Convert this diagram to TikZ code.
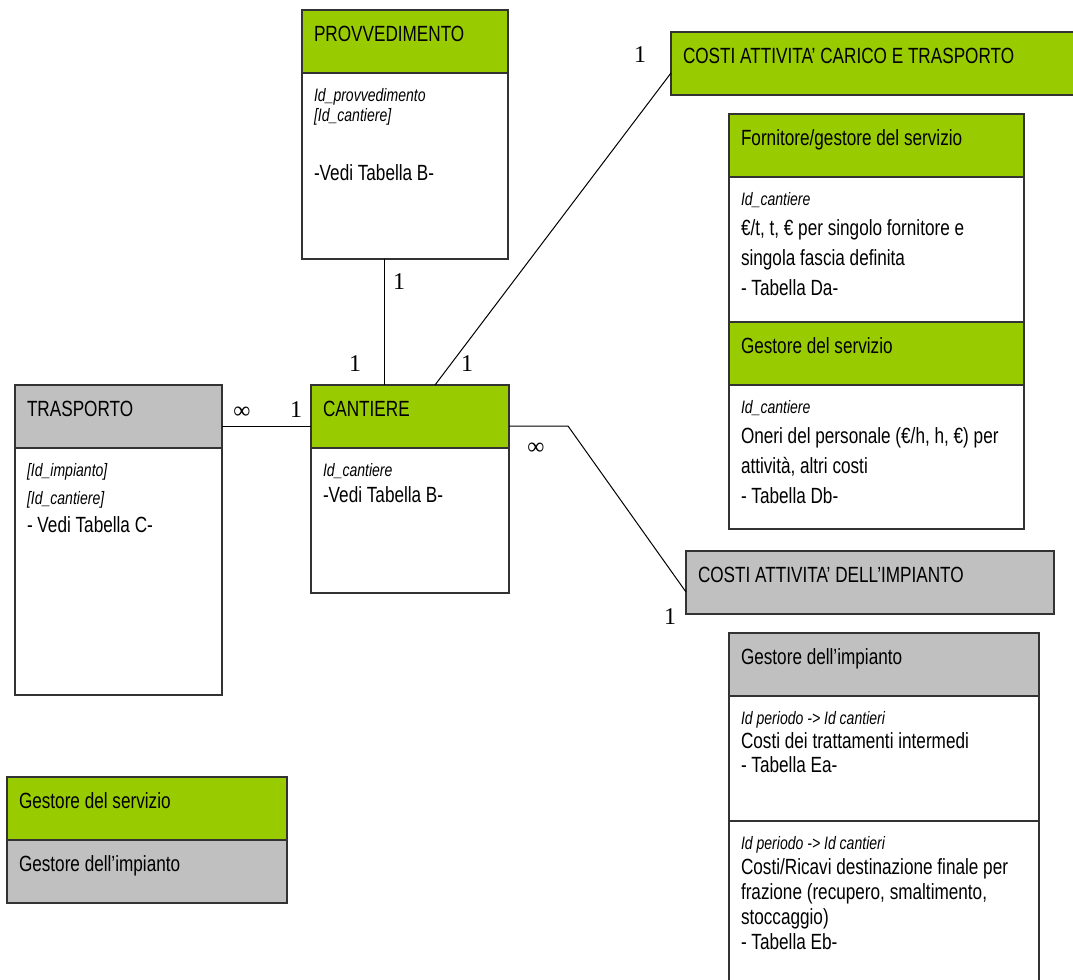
\documentclass[tikz,border=0pt]{standalone}
\usepackage{fontspec}
\setmainfont{Liberation Sans}[FakeStretch=0.78]
\newfontfamily\cardfont{Liberation Serif}
\usepackage{tikz}
\definecolor{servizio}{RGB}{153,204,0}
\definecolor{impianto}{RGB}{192,192,192}
\newlength{\tabwidth}
\setlength{\tabwidth}{135.5pt}
\newcommand{\idf}[1]{{\fontsize{9}{10}\selectfont\itshape #1}}

\tikzset{
    tbl/.style={draw=black!80, line width=0.65pt, anchor=north west, align=flush left,
        inner xsep=6pt, inner ysep=7.5pt, outer sep=0pt, text width=#1,
        font=\fontsize{11}{15}\selectfont},
    hdr/.style={tbl=#1, text height=8pt, text depth=8.5pt},
    bdy/.style 2 args={tbl=#1, fill=white, text height=6.5pt, text depth=#2},
    link/.style={draw=black, line width=0.5pt},
    card/.style={font=\cardfont\fontsize{12}{12}\selectfont, inner sep=0pt},
}

\begin{document}
\begin{tikzpicture}[x=0.5pt, y=-0.5pt]
    \useasboundingbox (0,0) rectangle (1073,980);

    \node[hdr=91pt, fill=servizio] (provh) at (302,10) {PROVVEDIMENTO};
    \node[bdy={91pt}{71.5pt}] (provb) at (provh.south west)
        {\idf{Id\_provvedimento}\\[-5pt]\idf{[Id\_cantiere]}\\[14.5pt]-Vedi Tabella B-};

    \node[hdr=91.5pt, fill=impianto] (trasph) at (15,385) {TRASPORTO};
    \node[bdy={91.5pt}{102pt}] (traspb) at (trasph.south west)
        {\idf{[Id\_impianto]}\\[-1pt]\idf{[Id\_cantiere]}\\[-1pt]- Vedi Tabella C-};

    \node[hdr=87pt, fill=servizio] (canth) at (311,385) {CANTIERE};
    \node[bdy={87pt}{51pt}] (cantb) at (canth.south west)
        {\idf{Id\_cantiere}\\[-2pt]-Vedi Tabella B-};

    \node[hdr=192.5pt, fill=servizio] (carico) at (671,32) {COSTI ATTIVITA' CARICO E TRASPORTO};

    \node[hdr=\tabwidth, fill=servizio] (fornh) at (729,114) {Fornitore/gestore del servizio};
    \node[bdy={\tabwidth}{51pt}] (fornb) at (fornh.south west)
        {\idf{Id\_cantiere}\\ €/t, t, € per singolo fornitore e\\ singola fascia definita\\ - Tabella Da-};
    \node[hdr=\tabwidth, fill=servizio] (servh) at (fornb.south west) {Gestore del servizio};
    \node[bdy={\tabwidth}{50.5pt}] (servb) at (servh.south west)
        {\idf{Id\_cantiere}\\ Oneri del personale (€/h, h, €) per\\ attività, altri costi\\ - Tabella Db-};

    \node[hdr=172pt, fill=impianto] (impianto) at (686,551) {COSTI ATTIVITA' DELL'IMPIANTO};

    \node[hdr=143pt, fill=impianto] (gimph) at (729,633) {Gestore dell'impianto};
    \node[bdy={143pt}{41pt}, font=\fontsize{11}{12}\selectfont] (gimpa) at (gimph.south west)
        {\idf{Id periodo -> Id cantieri}\\ Costi dei trattamenti intermedi\\ - Tabella Ea-};
    \node[bdy={143pt}{68.5pt}, font=\fontsize{11}{12.5}\selectfont] (gimpb) at (gimpa.south west)
        {\idf{Id periodo -> Id cantieri}\\ Costi/Ricavi destinazione finale per\\ frazione (recupero, smaltimento,\\ stoccaggio)\\ - Tabella Eb-};

    \node[hdr=128pt, fill=servizio] (legserv) at (7,777) {Gestore del servizio};
    \node[hdr=128pt, fill=impianto] (legimp) at (legserv.south west) {Gestore dell'impianto};

    \draw[link] ([xshift=-10.5pt]provb.south) -- ([xshift=-10.5pt]provb.south |- canth.north);
    \draw[link] ([xshift=12.5pt]canth.north) -- ([yshift=-4.75pt]carico.west);
    \draw[link] ([yshift=-4.75pt]trasph.east) -- ([yshift=-4.75pt]canth.west);
    \draw[link] ([yshift=-4.75pt]canth.east) -- ++(29.5pt,0) -- ([yshift=-4.75pt]impianto.west);

    \node[card] (c1) at (399,282) {1};
    \node[card] (c2) at (355,364) {1};
    \node[card] (c3) at (467,364) {1};
    \node[card] (c4) at (640,55) {1};
    \node[card] (c5) at (242,413) {∞};
    \node[card] (c6) at (296,410) {1};
    \node[card] (c7) at (536,449) {∞};
    \node[card] (c8) at (670,617) {1};
\end{tikzpicture}
\end{document}
